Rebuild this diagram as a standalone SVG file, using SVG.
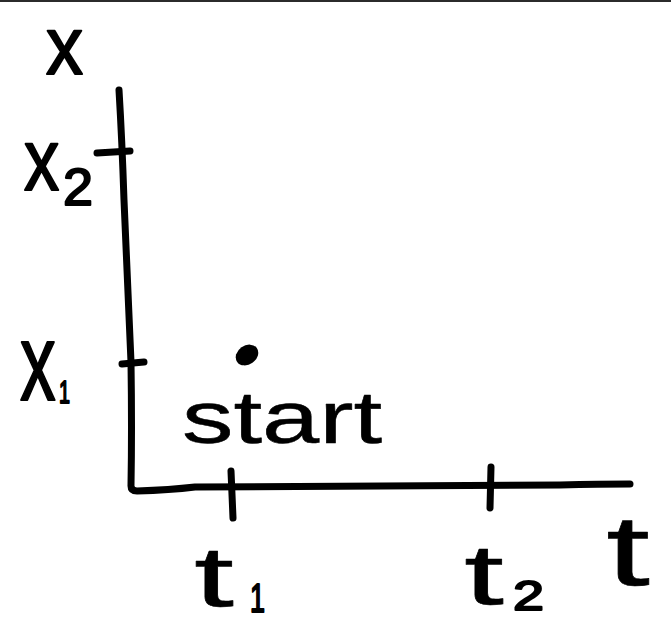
<svg xmlns="http://www.w3.org/2000/svg" width="671" height="623" viewBox="0 0 671 623">
<style>
.ln{fill:none;stroke:#000;stroke-width:7;stroke-linecap:round;stroke-linejoin:round}
.lb{font-family:"Liberation Sans",Arial,sans-serif;fill:#000;stroke:#000;stroke-width:2;stroke-linejoin:round}
.th{stroke-width:0.5}
</style>
<rect x="0" y="0" width="671" height="623" fill="#fff"/>
<rect x="0" y="0" width="671" height="2" fill="#2b2b2b"/>
<g id="axes">
<path class="ln" d="M119,90 Q122,140 124,200 Q128,300 131,362 Q132,430 131,486 Q131,491 137,491 Q170,490 195,487 L560,485 Q600,484 630,484"/>
</g>
<g id="ticks">
<path class="ln" d="M97,153 L130,151"/>
<path class="ln" d="M122,364 L144,362"/>
<path class="ln" d="M231,471 L233,518"/>
<path class="ln" d="M491,467 L490,508"/>
</g>
<g id="point">
<ellipse cx="247" cy="355" rx="12" ry="9.5" transform="rotate(-35 247 355)" fill="#000"/>
</g>
<g id="labels">
<text class="lb" x="46" y="74" font-size="81" textLength="37" lengthAdjust="spacingAndGlyphs">x</text>
<text class="lb" transform="translate(24,190) scale(0.8,1)" font-size="88">x</text>
<text class="lb" x="63" y="205" font-size="52" textLength="30" lengthAdjust="spacingAndGlyphs">2</text>
<text class="lb" transform="translate(20,400) scale(0.65,1)" font-size="110">x</text>
<text class="lb" x="59" y="403" font-size="32" textLength="11" lengthAdjust="spacingAndGlyphs">1</text>
<text class="lb th" x="182" y="443" font-size="74" textLength="200" lengthAdjust="spacingAndGlyphs">start</text>
<text class="lb"><tspan class="th" x="194" y="606" font-size="86" textLength="40" lengthAdjust="spacingAndGlyphs">t</tspan><tspan x="250" y="612" font-size="40" textLength="15" lengthAdjust="spacingAndGlyphs">1</tspan></text>
<text class="lb"><tspan class="th" x="464" y="604" font-size="86" textLength="40" lengthAdjust="spacingAndGlyphs">t</tspan><tspan x="513" y="610" font-size="42" textLength="31" lengthAdjust="spacingAndGlyphs">2</tspan></text>
<text class="lb th" x="606" y="585" font-size="100" textLength="44" lengthAdjust="spacingAndGlyphs">t</text>
</g>
</svg>
